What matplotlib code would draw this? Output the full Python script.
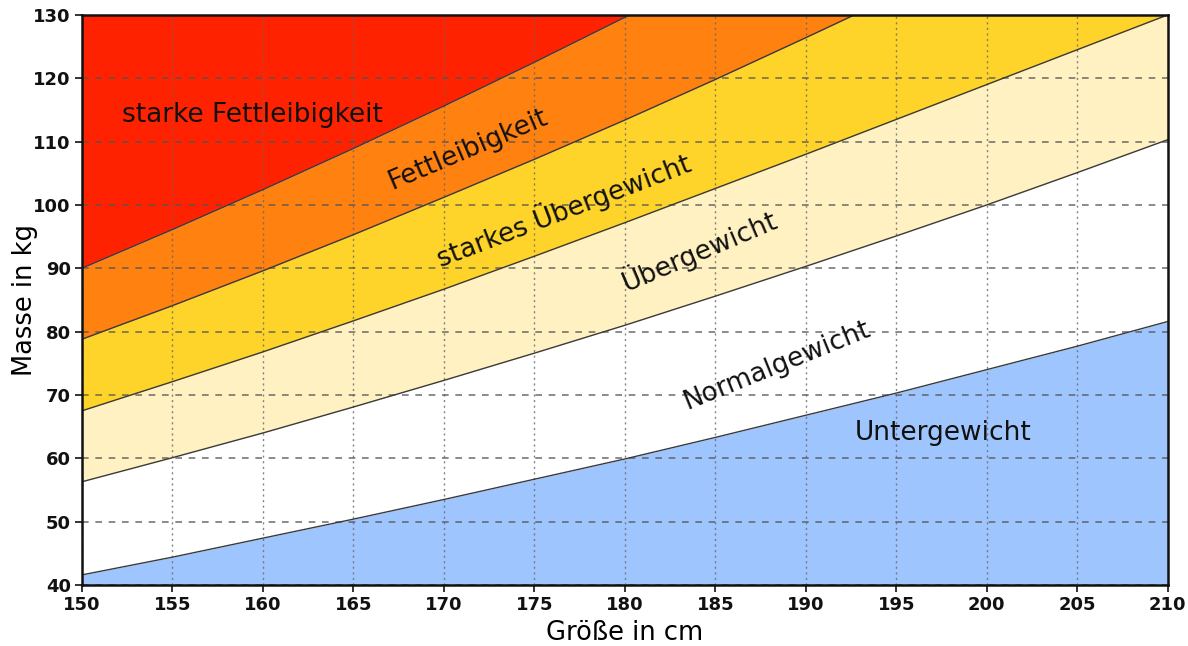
import numpy as np
import matplotlib
matplotlib.use("Agg")
import matplotlib.pyplot as plt

# Body height (cm) and the boundary masses (kg) read at every 5 cm
heights = [150, 155, 160, 165, 170, 175, 180, 185, 190, 195, 200, 205, 210]
under_normal = [41.6, 44.4, 47.4, 50.4, 53.5, 56.7, 59.9, 63.3, 66.8, 70.3, 74.0, 77.7, 81.6]
normal_over = [56.3, 60.1, 64.0, 68.1, 72.3, 76.6, 81.0, 85.6, 90.3, 95.1, 100.0, 105.1, 110.3]
over_strong = [67.5, 72.1, 76.8, 81.7, 86.7, 91.9, 97.2, 102.6, 108.0, 113.5, 119.0, 124.5, 130.0]
strong_obese = [78.8, 84.1, 89.6, 95.3, 101.2, 107.2, 113.4, 119.8, 126.4, 133.1, 140.0, 147.1, 154.4]
obese_severe = [90.0, 96.1, 102.4, 108.9, 115.6, 122.5, 129.6, 136.9, 144.4, 152.1, 160.0, 168.1, 176.4]

categories = ["Untergewicht", "Normalgewicht", "Übergewicht",
              "starkes Übergewicht", "Fettleibigkeit", "starke Fettleibigkeit"]
colors = ["#9fc5ff", "#ffffff", "#fff1c1", "#ffd42a", "#ff8110", "#ff2200"]

x_min, x_max = 150, 210
y_min, y_max = 40, 130

h = np.array(heights)
bounds = [np.full(len(h), y_min), under_normal, normal_over, over_strong,
          strong_obese, obese_severe, np.full(len(h), 200.0)]

fig = plt.figure(figsize=(11.88, 6.46), dpi=100)
ax = fig.add_axes([0.069, 0.0944, 0.914, 0.8826])

# coloured bands between the boundaries
for i, col in enumerate(colors):
    ax.fill_between(h, bounds[i], bounds[i + 1], color=col, linewidth=0, zorder=1)

# boundary lines
for b in bounds[1:-1]:
    ax.plot(h, b, color="#3a3a3a", linewidth=1.0, zorder=3)

ax.set_xlim(x_min, x_max)
ax.set_ylim(y_min, y_max)
ax.set_xticks(range(150, 211, 5))
ax.set_yticks(range(40, 131, 10))

# grid: dashed horizontal, dotted vertical
ax.grid(axis="y", linestyle=(0, (4, 4)), color="#555555", linewidth=1.2, alpha=0.8, zorder=2)
ax.grid(axis="x", linestyle=(0, (1.5, 2.5)), color="#666666", linewidth=1.0, alpha=0.8, zorder=2)

for tl in ax.get_xticklabels() + ax.get_yticklabels():
    tl.set_fontweight("bold")
ax.tick_params(labelsize=13, length=5, width=1.2, direction="out", colors="#111111", pad=3)
for s in ax.spines.values():
    s.set_linewidth(1.8)
    s.set_color("#111111")
    s.set_zorder(5)

ax.set_xlabel("Größe in cm", fontsize=18.5, labelpad=4)
ax.set_ylabel("Masse in kg", fontsize=18.5, labelpad=-3)

# category labels
label_x = [197.6, 188.4, 184.1, 176.6, 171.3, 159.4]
label_y = [64.0, 74.7, 92.9, 99.2, 108.7, 114.2]
label_rot = [0, 22, 23, 21, 23, 0]
for name, lx, ly, rot in zip(categories, label_x, label_y, label_rot):
    ax.text(lx, ly, name, fontsize=19, ha="center", va="center",
            rotation=rot, rotation_mode="anchor", color="#111111", zorder=4)

fig.savefig("out.png", dpi=100)
